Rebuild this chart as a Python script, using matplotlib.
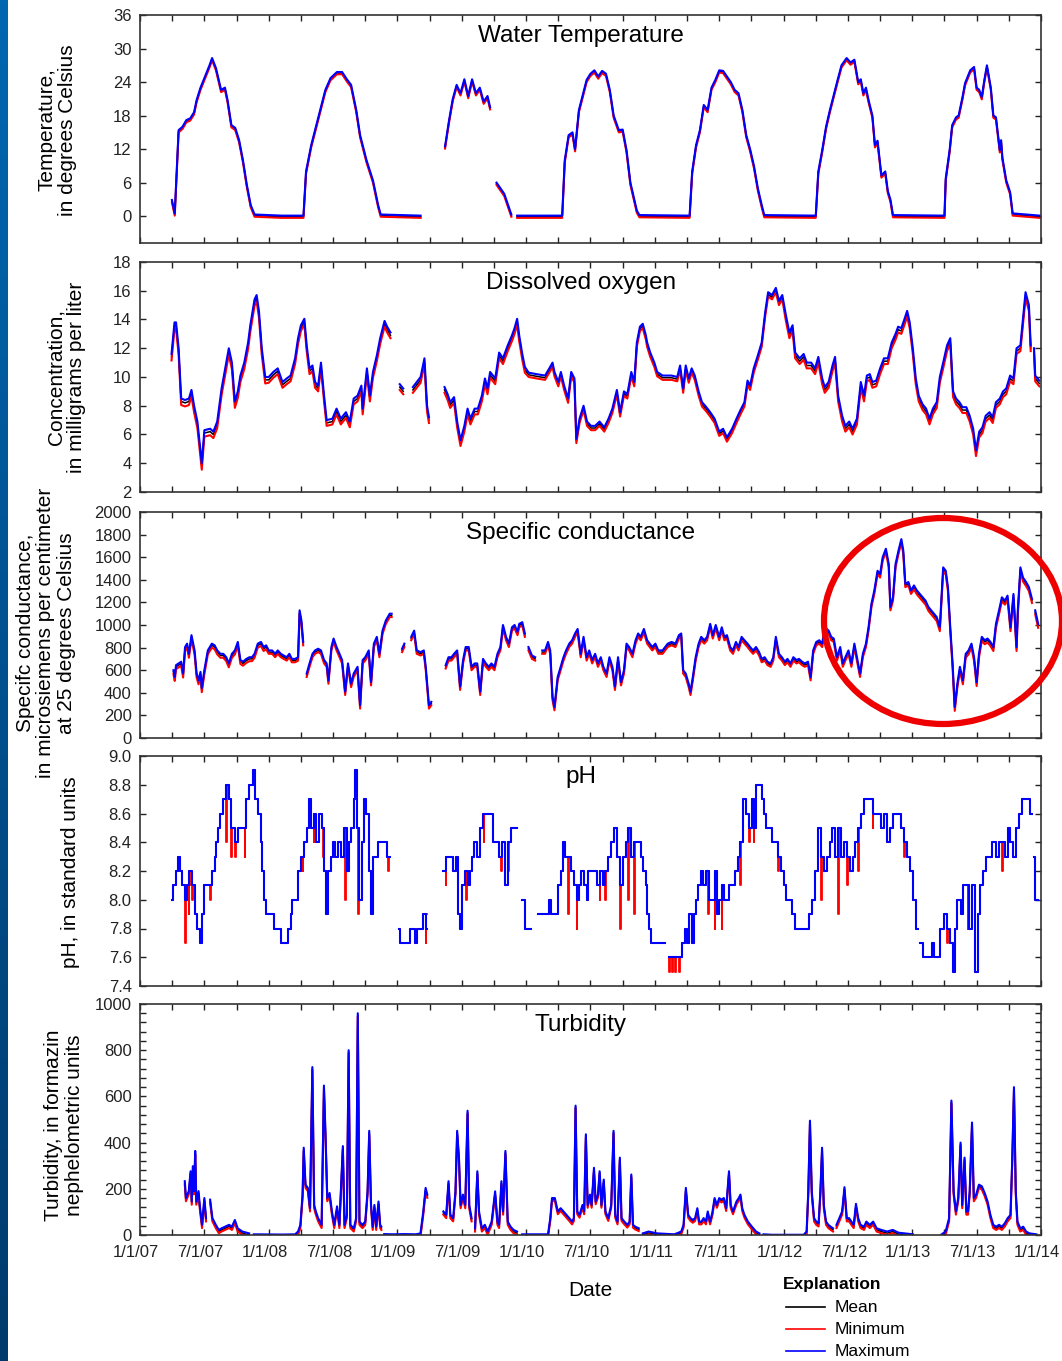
import numpy as np
import matplotlib
matplotlib.use('Agg')
import matplotlib.pyplot as plt
from matplotlib.patches import Ellipse
from matplotlib.lines import Line2D
from matplotlib.ticker import MultipleLocator, FuncFormatter, FormatStrFormatter
from matplotlib.colors import LinearSegmentedColormap
from matplotlib.transforms import ScaledTranslation

plt.rcParams['font.family'] = ['Liberation Sans', 'DejaVu Sans']

# ---------------- data (decimal year); None = no data ----------------
temp_max = [
    (2007.248, 2.9), (2007.27, 0.5), (2007.30, 15.4), (2007.33, 16.0), (2007.36, 17.2), (2007.39, 17.5),
    (2007.42, 18.6), (2007.44, 20.8), (2007.47, 23.0), (2007.51, 25.3), (2007.54, 27.0), (2007.56, 28.3),
    (2007.59, 26.5), (2007.63, 22.6), (2007.66, 23.0), (2007.68, 20.8), (2007.71, 16.3), (2007.74, 15.8),
    (2007.77, 13.6), (2007.80, 10.0), (2007.83, 5.6), (2007.86, 2.0), (2007.89, 0.3), (2008.10, 0.1),
    (2008.27, 0.1), (2008.29, 8.0), (2008.33, 12.7), (2008.37, 16.3), (2008.40, 19.0), (2008.44, 22.6),
    (2008.48, 24.7), (2008.53, 25.8), (2008.57, 25.8), (2008.61, 24.4), (2008.64, 23.5), (2008.68, 19.0),
    (2008.71, 14.5), (2008.76, 10.0), (2008.81, 6.4), (2008.85, 2.0), (2008.87, 0.3), (2009.18, 0.1),
    (2009.20, None), (2009.37, 12.5), (2009.40, 17.0), (2009.43, 21.0), (2009.46, 23.5), (2009.49, 22.0),
    (2009.52, 24.5), (2009.55, 21.5), (2009.58, 24.5), (2009.61, 22.0), (2009.64, 23.0), (2009.67, 20.5),
    (2009.70, 21.5), (2009.72, 19.5), (2009.74, None), (2009.77, 6.0), (2009.80, 5.0), (2009.83, 4.0),
    (2009.86, 2.0), (2009.885, 0.3), (2009.90, None), (2009.93, 0.1), (2010.28, 0.1), (2010.30, 10.0),
    (2010.33, 14.5), (2010.36, 15.0), (2010.38, 12.0), (2010.41, 19.0), (2010.44, 21.7), (2010.47, 24.4),
    (2010.50, 25.5), (2010.53, 26.1), (2010.56, 25.0), (2010.59, 26.0), (2010.62, 25.5), (2010.65, 22.6),
    (2010.68, 18.0), (2010.72, 15.4), (2010.75, 15.5), (2010.78, 11.8), (2010.81, 6.0), (2010.83, 4.0),
    (2010.86, 1.0), (2010.88, 0.2), (2011.27, 0.1), (2011.29, 8.0), (2011.32, 12.7), (2011.35, 15.4),
    (2011.38, 19.9), (2011.41, 19.0), (2011.44, 23.0), (2011.47, 24.4), (2011.50, 26.1), (2011.53, 26.0),
    (2011.56, 25.0), (2011.59, 24.0), (2011.62, 22.6), (2011.65, 22.0), (2011.68, 19.0), (2011.71, 14.5),
    (2011.74, 12.0), (2011.77, 9.0), (2011.80, 5.0), (2011.83, 2.0), (2011.85, 0.2), (2012.25, 0.1),
    (2012.27, 8.0), (2012.30, 11.8), (2012.33, 16.0), (2012.36, 19.0), (2012.39, 21.7), (2012.42, 24.4),
    (2012.45, 27.0), (2012.49, 28.3), (2012.52, 27.5), (2012.55, 28.0), (2012.58, 24.0), (2012.60, 24.5),
    (2012.62, 22.0), (2012.64, 23.0), (2012.66, 20.8), (2012.69, 18.0), (2012.71, 12.7), (2012.73, 13.5),
    (2012.76, 7.3), (2012.79, 8.0), (2012.81, 4.5), (2012.83, 3.0), (2012.85, 0.2), (2013.25, 0.1),
    (2013.26, 6.8), (2013.29, 11.8), (2013.31, 16.3), (2013.34, 17.7), (2013.36, 18.0), (2013.39, 21.3),
    (2013.41, 23.8), (2013.45, 26.1), (2013.48, 26.7), (2013.50, 23.0), (2013.52, 22.6), (2013.54, 21.3),
    (2013.56, 24.4), (2013.58, 27.0), (2013.61, 23.0), (2013.63, 18.0), (2013.65, 17.7), (2013.68, 11.8),
    (2013.69, 13.6), (2013.70, 10.5), (2013.73, 6.4), (2013.76, 4.3), (2013.78, 0.5), (2013.99, 0.1),
]
temp_gap_mean = [0.2, 0.2, 0.2, 0.2, 0.2, 0.2, 0.2]   # how far the mean sits below the maximum, per year
temp_gap_min = [0.4, 0.4, 0.4, 0.4, 0.4, 0.4, 0.4]    # how far the minimum sits below the maximum, per year

do_max = [
    (2007.245, 11.6), (2007.268, 13.8), (2007.28, 13.8), (2007.30, 12.0), (2007.32, 8.5), (2007.35, 8.4),
    (2007.38, 8.5), (2007.40, 9.1), (2007.42, 8.0), (2007.446, 6.9), (2007.48, 4.0), (2007.50, 6.3),
    (2007.545, 6.4), (2007.57, 6.2), (2007.60, 6.9), (2007.634, 9.2), (2007.66, 10.5), (2007.69, 12.0),
    (2007.714, 11.0), (2007.737, 8.3), (2007.76, 9.0), (2007.78, 10.1), (2007.81, 11.0), (2007.84, 12.4),
    (2007.857, 13.6), (2007.89, 15.4), (2007.906, 15.7), (2007.924, 14.6), (2007.946, 12.0), (2007.973, 10.0),
    (2008.00, 10.0), (2008.036, 10.35), (2008.07, 10.6), (2008.107, 9.65), (2008.14, 9.9), (2008.17, 10.1),
    (2008.205, 11.3), (2008.228, 12.7), (2008.25, 13.6), (2008.277, 14.05), (2008.295, 12.2), (2008.317, 10.6),
    (2008.34, 10.8), (2008.36, 9.65), (2008.384, 9.4), (2008.406, 11.0), (2008.43, 8.7), (2008.45, 7.0),
    (2008.495, 7.1), (2008.527, 7.8), (2008.56, 7.1), (2008.60, 7.55), (2008.63, 6.9), (2008.66, 8.5),
    (2008.69, 8.7), (2008.72, 9.4), (2008.73, 7.8), (2008.763, 10.6), (2008.786, 8.7), (2008.81, 10.35),
    (2008.84, 11.5), (2008.866, 12.7), (2008.90, 13.9), (2008.92, 13.5), (2008.946, 13.1), (2008.96, None),
    (2009.018, 9.5), (2009.045, 9.2), (2009.06, None), (2009.12, 9.3), (2009.15, 9.65), (2009.18, 10.0),
    (2009.21, 11.3), (2009.23, 8.0), (2009.245, 7.2), (2009.26, None), (2009.366, 9.3), (2009.39, 8.8),
    (2009.41, 8.25), (2009.44, 8.6), (2009.464, 6.9), (2009.49, 5.6), (2009.52, 6.6), (2009.545, 7.8),
    (2009.567, 7.1), (2009.60, 7.8), (2009.625, 7.8), (2009.656, 8.7), (2009.68, 9.9), (2009.70, 9.2),
    (2009.72, 10.35), (2009.76, 9.9), (2009.79, 11.7), (2009.82, 11.3), (2009.857, 12.2), (2009.89, 12.9),
    (2009.91, 13.4), (2009.93, 14.05), (2009.946, 12.9), (2009.97, 11.6), (2009.99, 10.7), (2010.02, 10.3),
    (2010.08, 10.2), (2010.147, 10.1), (2010.18, 10.6), (2010.205, 11.0), (2010.22, 10.35), (2010.25, 9.65),
    (2010.27, 10.35), (2010.295, 9.4), (2010.326, 8.5), (2010.35, 10.35), (2010.375, 9.9), (2010.39, 5.7),
    (2010.415, 7.1), (2010.446, 8.0), (2010.473, 6.9), (2010.504, 6.6), (2010.536, 6.6), (2010.57, 6.9),
    (2010.607, 6.5), (2010.64, 7.1), (2010.67, 7.8), (2010.705, 9.1), (2010.73, 7.55), (2010.76, 9.0),
    (2010.786, 8.8), (2010.817, 10.35), (2010.84, 9.65), (2010.86, 12.4), (2010.884, 13.5), (2010.906, 13.7),
    (2010.93, 12.9), (2010.94, 12.4), (2010.964, 11.7), (2010.996, 11.0), (2011.018, 10.35), (2011.06, 10.1),
    (2011.13, 10.1), (2011.174, 10.0), (2011.196, 10.8), (2011.22, 9.2), (2011.24, 10.8), (2011.263, 9.9),
    (2011.286, 10.6), (2011.31, 10.1), (2011.34, 9.0), (2011.366, 8.25), (2011.40, 7.9), (2011.43, 7.55),
    (2011.464, 7.1), (2011.50, 6.2), (2011.53, 6.4), (2011.56, 5.8), (2011.60, 6.4), (2011.634, 7.1),
    (2011.665, 7.7), (2011.696, 8.25), (2011.72, 9.75), (2011.74, 9.4), (2011.768, 10.6), (2011.80, 11.5),
    (2011.83, 12.4), (2011.857, 14.5), (2011.88, 15.9), (2011.91, 15.7), (2011.94, 16.2), (2011.964, 15.3),
    (2011.99, 15.7), (2012.018, 14.3), (2012.045, 13.1), (2012.07, 13.6), (2012.09, 11.7), (2012.125, 11.3),
    (2012.156, 11.6), (2012.18, 11.0), (2012.214, 11.0), (2012.245, 10.6), (2012.27, 11.4), (2012.30, 9.9),
    (2012.32, 9.3), (2012.35, 9.65), (2012.38, 10.8), (2012.40, 11.4), (2012.424, 8.7), (2012.455, 7.3),
    (2012.48, 6.6), (2012.51, 6.9), (2012.536, 6.4), (2012.57, 7.1), (2012.60, 9.65), (2012.625, 8.7),
    (2012.647, 10.1), (2012.67, 10.2), (2012.69, 9.65), (2012.72, 9.75), (2012.75, 10.6), (2012.78, 11.3),
    (2012.81, 11.3), (2012.84, 12.4), (2012.87, 13.0), (2012.89, 13.5), (2012.915, 13.4), (2012.94, 14.05),
    (2012.96, 14.6), (2012.98, 13.8), (2013.004, 12.0), (2013.027, 9.9), (2013.05, 8.7), (2013.08, 8.1),
    (2013.107, 7.8), (2013.134, 7.1), (2013.16, 7.8), (2013.19, 8.25), (2013.214, 10.0), (2013.24, 11.0),
    (2013.27, 12.2), (2013.295, 12.7), (2013.317, 9.0), (2013.34, 8.5), (2013.366, 8.25), (2013.39, 7.9),
    (2013.42, 7.9), (2013.446, 7.3), (2013.473, 6.4), (2013.495, 4.9), (2013.52, 6.2), (2013.545, 6.5),
    (2013.57, 7.3), (2013.60, 7.55), (2013.625, 7.2), (2013.65, 8.25), (2013.68, 8.5), (2013.705, 9.0),
    (2013.73, 9.2), (2013.76, 10.1), (2013.786, 9.9), (2013.81, 12.0), (2013.84, 12.2), (2013.857, 13.8),
    (2013.88, 15.9), (2013.906, 15.0), (2013.92, 12.2), (2013.93, None), (2013.946, 12.0), (2013.955, 10.1),
    (2013.987, 9.75),
]
do_gap_mean = [0.2, 0.2, 0.2, 0.15, 0.15, 0.2, 0.2]
do_gap_min = [0.45, 0.4, 0.4, 0.3, 0.3, 0.4, 0.4]

sc_max = [
    (2007.26, 600), (2007.27, 540), (2007.28, 645), (2007.30, 660), (2007.32, 675), (2007.335, 570),
    (2007.35, 805), (2007.366, 835), (2007.38, 745), (2007.40, 910), (2007.424, 775), (2007.44, 570),
    (2007.455, 510), (2007.47, 585), (2007.48, 440), (2007.50, 600), (2007.527, 775), (2007.558, 835),
    (2007.58, 820), (2007.60, 775), (2007.625, 745), (2007.647, 745), (2007.67, 715), (2007.69, 660),
    (2007.714, 745), (2007.737, 775), (2007.76, 850), (2007.78, 690), (2007.80, 675), (2007.826, 700),
    (2007.85, 715), (2007.87, 715), (2007.89, 745), (2007.915, 835), (2007.94, 850), (2007.96, 805),
    (2007.98, 820), (2008.00, 775), (2008.027, 775), (2008.05, 745), (2008.07, 775), (2008.094, 745),
    (2008.116, 730), (2008.14, 715), (2008.16, 745), (2008.18, 700), (2008.205, 700), (2008.228, 715),
    (2008.24, 1130), (2008.254, 1040), (2008.268, 850), (2008.28, None), (2008.295, 570), (2008.317, 660),
    (2008.34, 745), (2008.36, 775), (2008.384, 790), (2008.406, 775), (2008.43, 690), (2008.45, 660),
    (2008.464, 510), (2008.487, 805), (2008.504, 880), (2008.527, 805), (2008.55, 745), (2008.57, 690),
    (2008.594, 410), (2008.616, 660), (2008.64, 480), (2008.66, 570), (2008.69, 630), (2008.71, 290),
    (2008.73, 690), (2008.75, 715), (2008.777, 775), (2008.795, 495), (2008.817, 835), (2008.84, 895),
    (2008.86, 745), (2008.884, 950), (2008.91, 1040), (2008.94, 1100), (2008.955, 1100), (2008.97, None),
    (2009.036, 790), (2009.054, 835), (2009.07, None), (2009.107, 895), (2009.13, 950), (2009.15, 775),
    (2009.18, 760), (2009.205, 775), (2009.22, 630), (2009.245, 290), (2009.263, 320), (2009.28, None),
    (2009.375, 645), (2009.397, 715), (2009.42, 715), (2009.44, 745), (2009.464, 775), (2009.487, 455),
    (2009.51, 690), (2009.53, 805), (2009.554, 805), (2009.576, 630), (2009.60, 660), (2009.62, 660),
    (2009.643, 410), (2009.665, 700), (2009.687, 660), (2009.71, 630), (2009.73, 660), (2009.754, 630),
    (2009.777, 745), (2009.80, 805), (2009.82, 1000), (2009.844, 895), (2009.866, 835), (2009.89, 980),
    (2009.91, 1000), (2009.933, 940), (2009.946, 1010), (2009.97, 1025), (2009.99, 925), (2010.00, None),
    (2010.018, 805), (2010.045, 730), (2010.07, 715), (2010.08, None), (2010.125, 775), (2010.147, 775),
    (2010.17, 850), (2010.187, 775), (2010.205, 365), (2010.22, 275), (2010.245, 540), (2010.268, 630),
    (2010.29, 715), (2010.31, 775), (2010.335, 835), (2010.357, 865), (2010.38, 925), (2010.40, 965),
    (2010.424, 745), (2010.446, 895), (2010.47, 715), (2010.49, 775), (2010.513, 690), (2010.536, 745),
    (2010.558, 660), (2010.58, 715), (2010.60, 630), (2010.625, 570), (2010.647, 715), (2010.67, 630),
    (2010.69, 455), (2010.714, 715), (2010.737, 495), (2010.76, 600), (2010.78, 835), (2010.80, 805),
    (2010.826, 745), (2010.85, 865), (2010.87, 925), (2010.89, 895), (2010.915, 965), (2010.94, 865),
    (2010.96, 835), (2010.98, 805), (2011.004, 835), (2011.027, 775), (2011.06, 775), (2011.10, 835),
    (2011.13, 850), (2011.16, 835), (2011.187, 910), (2011.205, 925), (2011.22, 600), (2011.24, 570),
    (2011.263, 480), (2011.277, 410), (2011.295, 540), (2011.317, 715), (2011.34, 835), (2011.36, 895),
    (2011.384, 865), (2011.406, 895), (2011.43, 1010), (2011.45, 910), (2011.473, 1000), (2011.50, 895),
    (2011.52, 980), (2011.54, 895), (2011.56, 910), (2011.585, 805), (2011.607, 775), (2011.63, 850),
    (2011.65, 805), (2011.674, 895), (2011.696, 865), (2011.72, 835), (2011.74, 805), (2011.763, 775),
    (2011.786, 805), (2011.81, 760), (2011.83, 700), (2011.853, 715), (2011.875, 675), (2011.90, 660),
    (2011.92, 715), (2011.94, 895), (2011.964, 745), (2011.987, 715), (2012.01, 675), (2012.03, 700),
    (2012.054, 660), (2012.076, 715), (2012.10, 690), (2012.12, 700), (2012.143, 675), (2012.165, 660),
    (2012.19, 675), (2012.21, 540), (2012.23, 775), (2012.254, 850), (2012.277, 865), (2012.30, 835),
    (2012.32, 980), (2012.35, 950), (2012.37, 895), (2012.39, 880), (2012.415, 715), (2012.44, 805),
    (2012.46, 660), (2012.48, 715), (2012.504, 775), (2012.527, 660), (2012.55, 835), (2012.57, 715),
    (2012.594, 570), (2012.616, 745), (2012.64, 835), (2012.66, 980), (2012.683, 1190), (2012.705, 1305),
    (2012.73, 1480), (2012.75, 1450), (2012.77, 1600), (2012.795, 1675), (2012.817, 1540), (2012.83, 1160),
    (2012.85, 1245), (2012.87, 1540), (2012.893, 1660), (2012.915, 1760), (2012.93, 1660), (2012.946, 1365),
    (2012.97, 1380), (2012.99, 1305), (2013.013, 1350), (2013.036, 1305), (2013.058, 1275), (2013.08, 1245),
    (2013.103, 1215), (2013.125, 1160), (2013.147, 1130), (2013.17, 1100), (2013.19, 1070), (2013.214, 980),
    (2013.228, 1275), (2013.24, 1510), (2013.26, 1480), (2013.277, 1335), (2013.295, 980), (2013.313, 660),
    (2013.33, 275), (2013.35, 480), (2013.37, 630), (2013.393, 510), (2013.415, 745), (2013.437, 775),
    (2013.46, 835), (2013.48, 715), (2013.50, 495), (2013.518, 745), (2013.54, 895), (2013.563, 865),
    (2013.585, 880), (2013.607, 850), (2013.63, 805), (2013.65, 1010), (2013.674, 1130), (2013.696, 1245),
    (2013.72, 1215), (2013.74, 1260), (2013.763, 980), (2013.786, 1275), (2013.81, 805), (2013.82, 1130),
    (2013.84, 1510), (2013.86, 1420), (2013.884, 1380), (2013.906, 1335), (2013.93, 1230), (2013.94, None),
    (2013.955, 1130), (2013.978, 1010),
]
sc_gap_mean = [15, 15, 15, 15, 15, 15, 15]
sc_gap_min = [35, 30, 30, 30, 30, 30, 35]

ph_max = [
    (2007.246, 8.0), (2007.259, 8.1), (2007.277, 8.2), (2007.295, 8.3), (2007.3125, 8.2), (2007.330, 8.1),
    (2007.348, 8.0), (2007.366, 8.1), (2007.384, 8.2), (2007.402, 8.1), (2007.424, 7.9), (2007.446, 7.8),
    (2007.464, 7.7), (2007.482, 7.9), (2007.500, 8.1), (2007.558, 8.2), (2007.580, 8.3), (2007.594, 8.4),
    (2007.607, 8.5), (2007.625, 8.6), (2007.647, 8.7), (2007.670, 8.8), (2007.692, 8.7), (2007.705, 8.5),
    (2007.737, 8.4), (2007.759, 8.5), (2007.826, 8.7), (2007.848, 8.8), (2007.879, 8.9), (2007.897, 8.7),
    (2007.920, 8.6), (2007.9375, 8.4), (2007.951, 8.2), (2007.964, 8.0), (2007.982, 7.9), (2008.040, 7.8),
    (2008.094, 7.7), (2008.152, 7.8), (2008.170, 7.9), (2008.183, 8.0), (2008.228, 8.2), (2008.250, 8.3),
    (2008.272, 8.4), (2008.295, 8.5), (2008.3125, 8.7), (2008.330, 8.5), (2008.348, 8.6), (2008.371, 8.4),
    (2008.393, 8.6), (2008.411, 8.5), (2008.429, 8.2), (2008.446, 7.9), (2008.464, 8.2), (2008.482, 8.3),
    (2008.500, 8.4), (2008.518, 8.3), (2008.540, 8.4), (2008.5625, 8.3), (2008.585, 8.5), (2008.607, 8.2),
    (2008.625, 8.4), (2008.643, 8.5), (2008.661, 8.7), (2008.674, 8.9), (2008.6875, 8.5), (2008.705, 8.0),
    (2008.723, 8.4), (2008.741, 8.7), (2008.759, 8.6), (2008.777, 8.2), (2008.795, 7.9), (2008.8125, 8.3),
    (2008.848, 8.4), (2008.920, 8.3), (2008.946, None), (2009.009, 7.8), (2009.018, 7.7), (2009.098, 7.8),
    (2009.134, 7.7), (2009.152, 7.8), (2009.196, 7.9), (2009.223, 7.8), (2009.232, None), (2009.357, 8.2),
    (2009.375, 8.3), (2009.433, 8.2), (2009.455, 8.3), (2009.469, 7.9), (2009.487, 7.8), (2009.500, 8.1),
    (2009.522, 8.2), (2009.545, 8.1), (2009.5625, 8.2), (2009.580, 8.3), (2009.598, 8.4), (2009.621, 8.3),
    (2009.643, 8.5), (2009.665, 8.6), (2009.746, 8.4), (2009.790, 8.3), (2009.8125, 8.4), (2009.835, 8.1),
    (2009.857, 8.4), (2009.879, 8.5), (2009.929, None), (2009.969, 8.0), (2009.991, 7.8), (2010.036, None),
    (2010.089, 7.9), (2010.179, 8.0), (2010.196, 7.9), (2010.250, 8.1), (2010.268, 8.2), (2010.286, 8.4),
    (2010.304, 8.3), (2010.348, 8.2), (2010.371, 8.1), (2010.393, 8.0), (2010.411, 8.1), (2010.429, 8.2),
    (2010.446, 8.1), (2010.469, 8.0), (2010.482, 8.2), (2010.549, 8.1), (2010.571, 8.2), (2010.594, 8.1),
    (2010.616, 8.2), (2010.638, 8.3), (2010.661, 8.4), (2010.679, 8.5), (2010.705, 8.3), (2010.728, 8.1),
    (2010.750, 8.3), (2010.772, 8.4), (2010.795, 8.5), (2010.817, 8.3), (2010.839, 8.4), (2010.893, 8.3),
    (2010.911, 8.2), (2010.929, 8.1), (2010.942, 7.9), (2010.955, 7.8), (2010.973, 7.7), (2011.076, None),
    (2011.107, 7.6), (2011.214, 7.7), (2011.232, 7.8), (2011.250, 7.7), (2011.268, 7.9), (2011.286, 7.7),
    (2011.304, 7.9), (2011.321, 8.0), (2011.339, 8.1), (2011.357, 8.2), (2011.375, 8.1), (2011.397, 8.2),
    (2011.420, 8.0), (2011.464, 8.2), (2011.482, 7.9), (2011.500, 8.0), (2011.518, 8.1), (2011.536, 8.0),
    (2011.576, 8.1), (2011.621, 8.2), (2011.643, 8.3), (2011.665, 8.4), (2011.6875, 8.7), (2011.710, 8.6),
    (2011.732, 8.5), (2011.754, 8.7), (2011.768, 8.5), (2011.786, 8.8), (2011.830, 8.7), (2011.848, 8.6),
    (2011.866, 8.5), (2011.911, 8.4), (2011.955, 8.3), (2011.978, 8.2), (2012.000, 8.1), (2012.022, 8.0),
    (2012.067, 7.9), (2012.089, 7.8), (2012.201, 7.9), (2012.223, 8.0), (2012.246, 8.2), (2012.268, 8.5),
    (2012.290, 8.3), (2012.3125, 8.2), (2012.335, 8.3), (2012.357, 8.4), (2012.379, 8.5), (2012.402, 8.3),
    (2012.424, 8.5), (2012.446, 8.3), (2012.469, 8.4), (2012.491, 8.3), (2012.5125, 8.2), (2012.536, 8.3),
    (2012.558, 8.4), (2012.580, 8.5), (2012.603, 8.6), (2012.625, 8.7), (2012.692, 8.6), (2012.759, 8.5),
    (2012.781, 8.6), (2012.804, 8.4), (2012.826, 8.5), (2012.848, 8.6), (2012.915, 8.5), (2012.937, 8.4),
    (2012.960, 8.3), (2012.982, 8.2), (2013.004, 8.0), (2013.027, 7.8), (2013.045, None), (2013.0625, 7.7),
    (2013.080, 7.6), (2013.152, 7.7), (2013.170, 7.6), (2013.219, 7.8), (2013.250, 7.9), (2013.272, 7.8),
    (2013.295, 7.7), (2013.3125, 7.5), (2013.330, 7.8), (2013.348, 8.0), (2013.375, 7.9), (2013.393, 8.1),
    (2013.4375, 7.8), (2013.464, 8.1), (2013.486, 7.5), (2013.509, 7.9), (2013.527, 8.1), (2013.549, 8.2),
    (2013.571, 8.3), (2013.621, 8.4), (2013.652, 8.3), (2013.674, 8.4), (2013.719, 8.3), (2013.741, 8.5),
    (2013.763, 8.4), (2013.786, 8.3), (2013.808, 8.5), (2013.830, 8.6), (2013.853, 8.7), (2013.911, 8.6),
    (2013.929, None), (2013.942, 8.3), (2013.955, 8.0), (2013.973, 8.0),
]
# short downward excursions of the daily minimum pH (red)
ph_min_dips = [
    (2007.348, 7.7), (2007.379, 7.9), (2007.402, 8.0), (2007.545, 8.0), (2007.670, 8.4), (2007.705, 8.3),
    (2007.737, 8.3), (2007.8125, 8.3), (2008.263, 8.2), (2008.348, 8.4), (2008.420, 8.3), (2008.594, 8.0),
    (2008.696, 7.9), (2008.930, 8.2), (2009.219, 7.7), (2009.375, 8.1), (2009.487, 7.8), (2009.536, 8.0),
    (2009.670, 8.4), (2009.804, 8.2), (2009.857, 8.2), (2010.326, 7.9), (2010.393, 7.8), (2010.571, 8.0),
    (2010.616, 8.0), (2010.728, 7.8), (2010.795, 8.0), (2010.839, 7.9), (2011.110, 7.5), (2011.135, 7.5),
    (2011.160, 7.5), (2011.190, 7.5), (2011.411, 7.9), (2011.464, 7.8), (2011.518, 7.8),
    (2011.665, 8.1), (2011.732, 8.4), (2011.768, 8.4), (2011.955, 8.2), (2012.290, 8.0), (2012.424, 7.9),
    (2012.491, 8.1), (2012.580, 8.2), (2012.692, 8.5), (2012.937, 8.3), (2013.272, 7.7), (2013.384, 7.9),
    (2013.429, 7.8), (2013.696, 8.2), (2013.763, 8.4),
]

turb_max = [
    (2007.348, 233), (2007.357, 160), (2007.379, 190), (2007.393, 276), (2007.402, 145), (2007.411, 298),
    (2007.420, 190), (2007.429, 364), (2007.4375, 145), (2007.455, 190), (2007.464, 130), (2007.482, 44),
    (2007.500, 160), (2007.513, 73), (2007.527, None), (2007.545, 153), (2007.5625, 73), (2007.589, 44),
    (2007.612, 22), (2007.634, 29), (2007.661, 36), (2007.692, 44), (2007.714, 36), (2007.737, 65),
    (2007.759, 29), (2007.795, 15), (2007.848, 7), (2007.866, None), (2007.884, 3), (2008.116, 2),
    (2008.205, 3), (2008.228, 15), (2008.246, 44), (2008.263, 175), (2008.272, 378), (2008.286, 218),
    (2008.304, 204), (2008.321, 116), (2008.339, 727), (2008.353, 130), (2008.366, 102), (2008.384, 73),
    (2008.411, 44), (2008.429, 647), (2008.442, 422), (2008.455, 160), (2008.473, 182), (2008.491, 102),
    (2008.509, 44), (2008.531, 124), (2008.549, 44), (2008.576, 385), (2008.589, 44), (2008.607, 87),
    (2008.621, 800), (2008.634, 44), (2008.661, 29), (2008.679, 73), (2008.692, 960), (2008.705, 58),
    (2008.728, 44), (2008.750, 58), (2008.768, 189), (2008.781, 451), (2008.795, 130), (2008.808, 36),
    (2008.821, 130), (2008.835, 36), (2008.853, 145), (2008.866, 44), (2008.875, 36), (2008.884, None),
    (2008.897, 4), (2008.964, 3), (2009.054, 4), (2009.143, 3), (2009.179, 7), (2009.201, 102),
    (2009.219, 204), (2009.232, 175), (2009.241, None), (2009.357, 102), (2009.379, 87), (2009.397, 233),
    (2009.411, 87), (2009.433, 73), (2009.451, 189), (2009.464, 451), (2009.478, 335), (2009.491, 130),
    (2009.509, 175), (2009.527, 130), (2009.545, 538), (2009.558, 130), (2009.576, 73), (2009.589, None),
    (2009.603, 29), (2009.621, 276), (2009.634, 102), (2009.656, 29), (2009.679, 44), (2009.701, 15),
    (2009.732, 58), (2009.759, 189), (2009.777, 58), (2009.790, 44), (2009.808, 233), (2009.821, 102),
    (2009.839, 364), (2009.857, 58), (2009.879, 36), (2009.902, 22), (2009.929, 15), (2009.946, None),
    (2009.969, 3), (2010.170, 3), (2010.1875, 73), (2010.201, 160), (2010.223, 160), (2010.246, 102),
    (2010.268, 116), (2010.290, 102), (2010.3125, 87), (2010.335, 73), (2010.357, 58), (2010.371, 73),
    (2010.384, 560), (2010.397, 102), (2010.415, 87), (2010.4375, 130), (2010.451, 102), (2010.464, 436),
    (2010.478, 130), (2010.496, 175), (2010.509, 130), (2010.527, 291), (2010.540, 145), (2010.558, 175),
    (2010.571, 276), (2010.585, 130), (2010.603, 240), (2010.616, 102), (2010.638, 73), (2010.661, 130),
    (2010.679, 451), (2010.692, 87), (2010.710, 58), (2010.728, 335), (2010.741, 73), (2010.763, 58),
    (2010.786, 44), (2010.804, 58), (2010.817, 262), (2010.830, 44), (2010.848, 36), (2010.875, 29),
    (2010.888, None), (2010.906, 7), (2010.951, 15), (2011.018, 7), (2011.152, 3), (2011.205, 15),
    (2011.223, 44), (2011.241, 204), (2011.259, 87), (2011.277, 73), (2011.295, 65), (2011.3125, 73),
    (2011.330, 116), (2011.344, 58), (2011.362, 58), (2011.379, 73), (2011.397, 58), (2011.411, 102),
    (2011.429, 58), (2011.446, 95), (2011.464, 160), (2011.482, 130), (2011.500, 160), (2011.518, 153),
    (2011.536, 160), (2011.554, 116), (2011.576, 276), (2011.589, 130), (2011.607, 102), (2011.634, 145),
    (2011.652, 160), (2011.665, 175), (2011.679, 116), (2011.696, 87), (2011.723, 58), (2011.754, 36),
    (2011.786, 15), (2011.8125, 7), (2011.826, None), (2011.844, 3), (2011.911, 1), (2012.156, 1),
    (2012.179, 15), (2012.192, 189), (2012.205, 495), (2012.219, 189), (2012.237, 73), (2012.254, 58),
    (2012.272, 51), (2012.286, 189), (2012.299, 378), (2012.3125, 130), (2012.330, 58), (2012.348, 44),
    (2012.366, 36), (2012.384, 29), (2012.397, None), (2012.411, 44), (2012.433, 73), (2012.455, 102),
    (2012.473, 207), (2012.491, 73), (2012.509, 73), (2012.527, 58), (2012.545, 44), (2012.5625, 135),
    (2012.580, 73), (2012.598, 44), (2012.625, 36), (2012.643, 58), (2012.670, 44), (2012.696, 58),
    (2012.723, 29), (2012.759, 22), (2012.804, 15), (2012.848, 22), (2012.893, 10), (2012.9375, 7),
    (2013.004, 3), (2013.018, None), (2013.228, 3), (2013.259, 15), (2013.286, 73), (2013.304, 582),
    (2013.321, 189), (2013.339, 102), (2013.357, 160), (2013.375, 400), (2013.388, 130), (2013.406, 335),
    (2013.420, 102), (2013.433, 102), (2013.446, 189), (2013.464, 487), (2013.478, 160), (2013.496, 175),
    (2013.518, 218), (2013.540, 211), (2013.5625, 182), (2013.585, 145), (2013.607, 87), (2013.629, 44),
    (2013.652, 36), (2013.674, 44), (2013.696, 36), (2013.719, 51), (2013.741, 73), (2013.763, 87),
    (2013.777, 335), (2013.790, 640), (2013.804, 189), (2013.817, 58), (2013.839, 29), (2013.862, 36),
    (2013.884, 15), (2013.911, 7), (2013.964, 3),
]
turb_gap_mean = [7, 7, 7, 6, 6, 7, 7]
turb_gap_min = [14, 14, 14, 12, 12, 14, 14]

panel_titles = ['Water Temperature', 'Dissolved oxygen', 'Specific conductance', 'pH', 'Turbidity']
panel_ylabels = ['Temperature,\nin degrees Celsius',
                 'Concentration,\nin milligrams per liter',
                 'Specifc conductance,\nin microsiemens per centimeter\nat 25 degrees Celsius',
                 'pH, in standard units',
                 'Turbidity, in formazin\nnephelometric units']
legend_labels = ['Mean', 'Minimum', 'Maximum']

# ---------------- helpers ----------------
def split(pairs):
    yrs = np.array([p[0] for p in pairs], float)
    vals = np.array([np.nan if p[1] is None else p[1] for p in pairs], float)
    return yrs, vals

def per_year(yrs, table):
    idx = np.clip(np.floor(yrs).astype(int) - 2007, 0, len(table) - 1)
    return np.asarray(table, float)[idx]

def with_dips(yrs, vals, dips):
    t = list(yrs)
    v = list(vals)
    for dt, dv in dips:
        i = max(np.searchsorted(yrs, dt, side='right') - 1, 0)
        t += [dt, dt + 0.006]
        v += [dv, vals[i]]
    order = np.argsort(t, kind='stable')
    return np.array(t)[order], np.array(v)[order]

W, H = 1062, 1361
fig = plt.figure(figsize=(W / 100, H / 100), dpi=100)

# left decorative gradient bar
bar = fig.add_axes([0, 0, 8 / W, 1])
cmap = LinearSegmentedColormap.from_list('bar', ['#0067b1', '#003a6c'])
bar.imshow(np.linspace(0, 1, 256)[:, None], aspect='auto', cmap=cmap, extent=[0, 1, 0, 1], origin='upper')
bar.axis('off')

# axes rectangles in pixels (top, bottom)
rows = [(15, 243), (262, 492), (512, 738), (756, 986), (1004, 1235)]
left_px, right_px = 140, 1041
axes = []
for top, bot in rows:
    ax = fig.add_axes([left_px / W, 1 - bot / H, (right_px - left_px) / W, (bot - top) / H])
    axes.append(ax)

LW_MEAN, LW_MIN, LW_MAX = 1.1, 1.5, 1.5

def draw_band(ax, pairs, gap_mean, gap_min):
    yrs, mx = split(pairs)
    ax.plot(yrs, mx - per_year(yrs, gap_mean), color='black', lw=LW_MEAN)
    ax.plot(yrs, mx - per_year(yrs, gap_min), color='red', lw=LW_MIN)
    ax.plot(yrs, mx, color='blue', lw=LW_MAX)

draw_band(axes[0], temp_max, temp_gap_mean, temp_gap_min)
draw_band(axes[1], do_max, do_gap_mean, do_gap_min)
draw_band(axes[2], sc_max, sc_gap_mean, sc_gap_min)

# pH (stepped values)
ph_y, ph_v = split(ph_max)
ax = axes[3]
ax.plot(ph_y, ph_v, color='black', lw=LW_MEAN, drawstyle='steps-post')
my, mv = with_dips(ph_y, ph_v, ph_min_dips)
ax.plot(my, mv, color='red', lw=1.3, drawstyle='steps-post')
ax.plot(ph_y, ph_v, color='blue', lw=LW_MAX, drawstyle='steps-post')

draw_band(axes[4], turb_max, turb_gap_mean, turb_gap_min)

# axis settings
ylims = [(-4.8, 36), (2, 18), (0, 2000), (7.4, 9.0), (0, 1000)]
ysteps = [6, 2, 200, 0.2, 200]
yfmts = ['%d', '%d', '%d', '%.1f', '%d']

def xfmt(v, pos):
    yr = int(np.floor(v + 1e-6))
    frac = v - yr
    mon = '1/1/' if frac < 0.25 else '7/1/'
    return mon + '%02d' % (yr % 100)

for i, ax in enumerate(axes):
    ax.set_xlim(2007, 2014)
    ax.set_ylim(*ylims[i])
    ax.xaxis.set_major_locator(MultipleLocator(0.5))
    ax.xaxis.set_minor_locator(MultipleLocator(0.25))
    ax.yaxis.set_major_locator(MultipleLocator(ysteps[i]))
    ax.yaxis.set_major_formatter(FormatStrFormatter(yfmts[i]))
    if i == 4:
        ax.yaxis.set_minor_locator(MultipleLocator(40))
        ax.xaxis.set_major_formatter(FuncFormatter(xfmt))
    else:
        ax.tick_params(axis='x', labelbottom=False)
    ax.tick_params(which='both', direction='in', top=True, right=True, length=4, width=1,
                   labelsize=12, colors='#222222')
    ax.tick_params(axis='y', pad=6)
    ax.tick_params(axis='x', pad=7)
    for s in ax.spines.values():
        s.set_linewidth(1.2)
        s.set_color('#333333')
    top, bot = rows[i]
    ax.text(0.489, 1 - 21 / (bot - top), panel_titles[i], transform=ax.transAxes,
            ha='center', va='center', fontsize=17.5)

# date labels in the original sit slightly left of their ticks
shift = ScaledTranslation(-4 / 100, 0, fig.dpi_scale_trans)
for lab in axes[4].get_xticklabels():
    lab.set_transform(lab.get_transform() + shift)

# y labels (figure-level, positioned like the original)
ylabel_pos = [(57, 130), (66, 377), (46, 633), (70, 872), (64, 1125)]
for (xp, yp), lab in zip(ylabel_pos, panel_ylabels):
    fig.text(xp / W, 1 - yp / H, lab, rotation=90, ha='center', va='center',
             fontsize=15, linespacing=1.1, multialignment='center')

fig.text(590 / W, 1 - 1291 / H, 'Date', ha='center', va='center', fontsize=15)

# legend ("Explanation")
fig.text(783 / W, 1 - 1284 / H, 'Explanation', fontweight='bold', fontsize=12.5, ha='left', va='center')
for k, (lab, col) in enumerate(zip(legend_labels, ['black', 'red', 'blue'])):
    yy = 1 - (1307 + 22 * k) / H
    fig.add_artist(Line2D([786 / W, 825 / W], [yy, yy], color=col, lw=1.2, transform=fig.transFigure))
    fig.text(835 / W, yy, lab, fontsize=12.5, ha='left', va='center')

# red highlight ellipse on specific conductance
fig.add_artist(Ellipse((943 / W, 1 - 621 / H), 238 / W, 206 / H, transform=fig.transFigure,
                       fill=False, ec='#ee0000', lw=4.5, clip_on=False))

fig.savefig('out.png', dpi=100)
